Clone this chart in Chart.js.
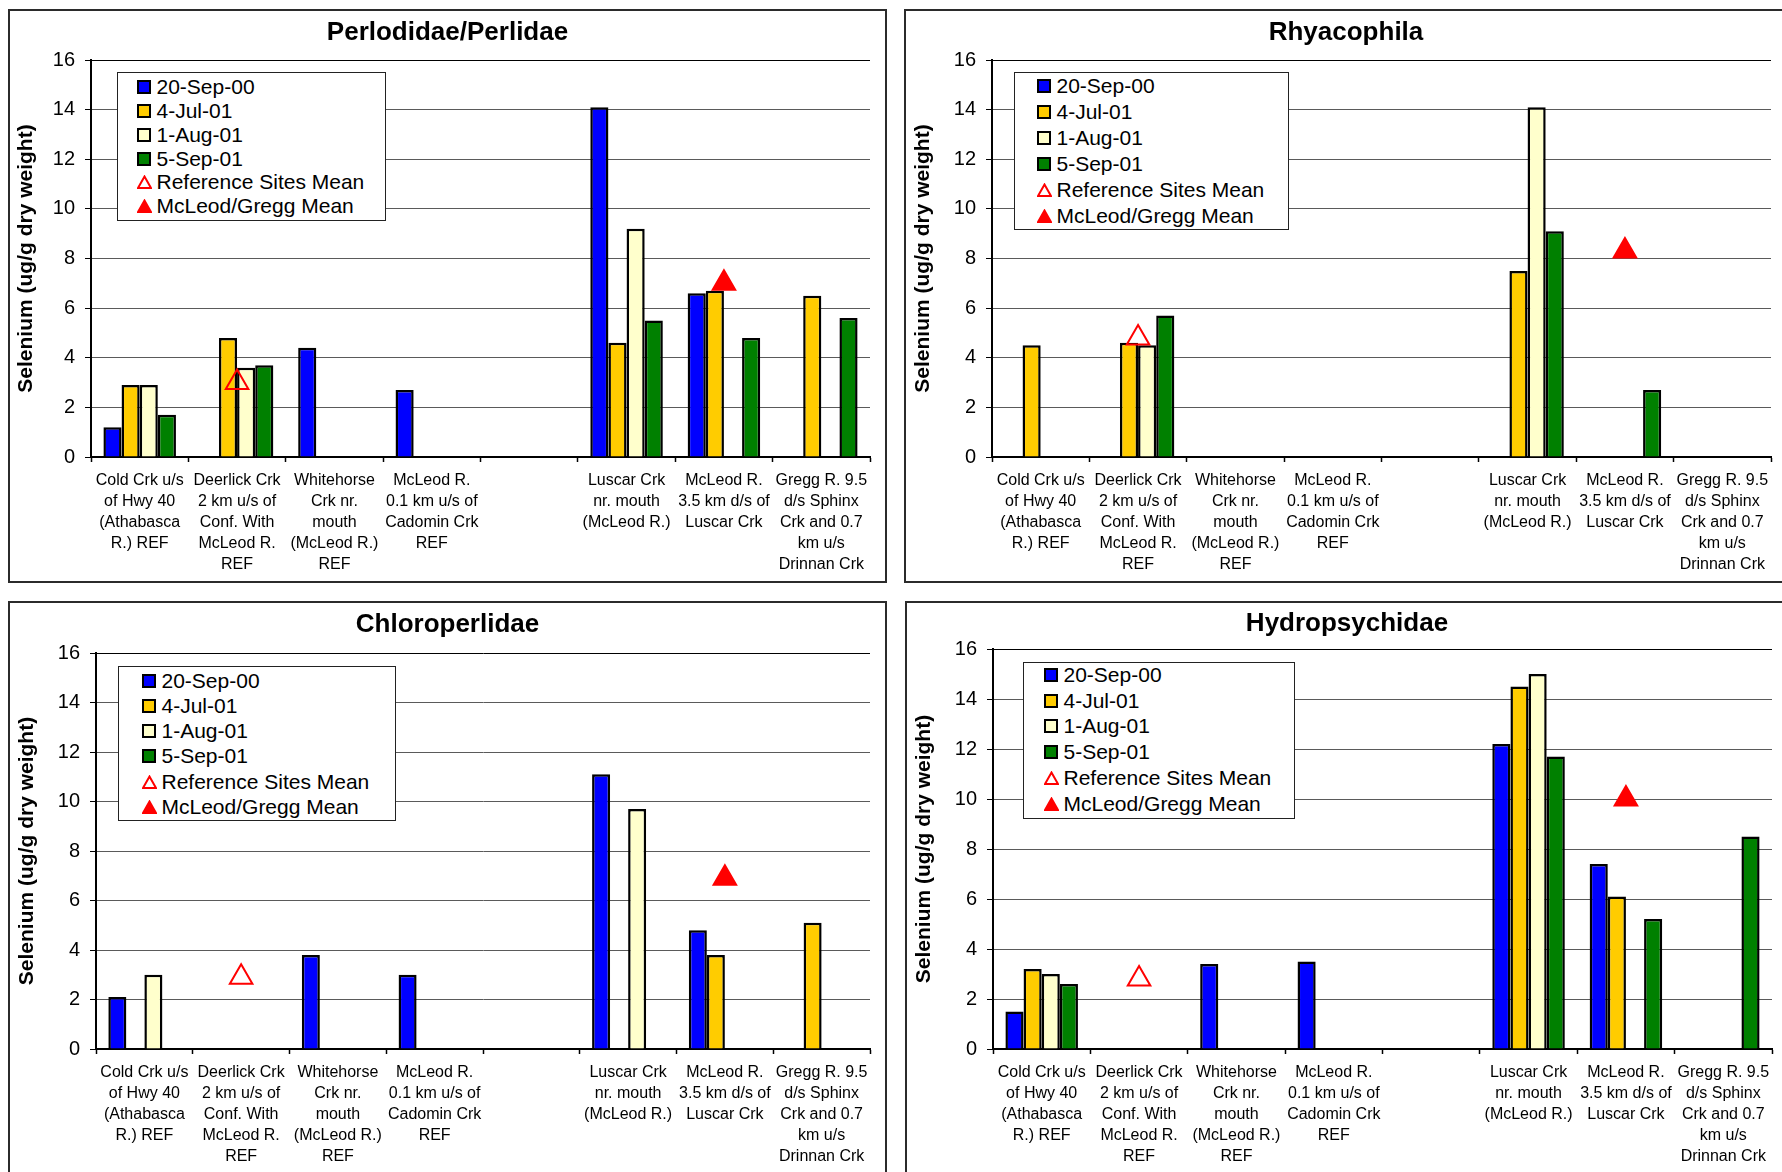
<!DOCTYPE html>
<html lang="en">
<head>
<meta charset="UTF-8">
<title>Selenium in benthic invertebrates</title>
<script src="https://cdn.jsdelivr.net/npm/chart.js"></script>
<style>
    html, body { margin: 0; padding: 0; background: #fff; }
    body { width: 1782px; height: 1172px; overflow: hidden; position: relative;
           font-family: "Liberation Sans", Arial, sans-serif; }
    .panel { position: absolute; border: 2px solid #2b2b2b; background: #fff; overflow: hidden; }
    .panel canvas { position: absolute; left: 0; top: 0; }
    .legend { position: absolute; background: #fff; border: 1.5px solid #222; box-sizing: border-box;
              font-size: 21px; color: #000; }
    .legend .row { position: absolute; height: 24px; line-height: 24px; white-space: nowrap;
                   display: flex; align-items: center; }
    .sw { display: inline-block; width: 14px; height: 14px; box-sizing: border-box;
          border: 2px solid #000; margin-right: 6px; }
    .tri { width: 15px; height: 14px; margin-right: 5px; }
</style>
</head>
<body>

<script>
// site labels (multi-line), one empty slot between reference and exposed sites
const sites = [
    ['Cold Crk u/s', 'of Hwy 40', '(Athabasca', 'R.) REF'],
    ['Deerlick Crk', '2 km u/s of', 'Conf. With', 'McLeod R.', 'REF'],
    ['Whitehorse', 'Crk nr.', 'mouth', '(McLeod R.)', 'REF'],
    ['McLeod R.', '0.1 km u/s of', 'Cadomin Crk', 'REF'],
    '',
    ['Luscar Crk', 'nr. mouth', '(McLeod R.)'],
    ['McLeod R.', '3.5 km d/s of', 'Luscar Crk'],
    ['Gregg R. 9.5', 'd/s Sphinx', 'Crk and 0.7', 'km u/s', 'Drinnan Crk']
];
const seriesNames = ['20-Sep-00', '4-Jul-01', '1-Aug-01', '5-Sep-01', 'Reference Sites Mean', 'McLeod/Gregg Mean'];

// Perlodidae/Perlidae
const perlSep00 = [1.2, null, 4.4, 2.7, null, 14.1, 6.6, null];
const perlJul01 = [2.9, 4.8, null, null, null, 4.6, 6.7, 6.5];
const perlAug01 = [2.9, 3.6, null, null, null, 9.2, null, null];
const perlSep01 = [1.7, 3.7, null, null, null, 5.5, 4.8, 5.6];
const perlRefMean = [null, 3.0, null, null, null, null, null, null];
const perlMcMean = [null, null, null, null, null, null, 7.0, null];

// Rhyacophila
const rhySep00 = [null, null, null, null, null, null, null, null];
const rhyJul01 = [4.5, 4.6, null, null, null, 7.5, null, null];
const rhyAug01 = [null, 4.5, null, null, null, 14.1, null, null];
const rhySep01 = [null, 5.7, null, null, null, 9.1, 2.7, null];
const rhyRefMean = [null, 4.8, null, null, null, null, null, null];
const rhyMcMean = [null, null, null, null, null, null, 8.3, null];

// Chloroperlidae
const chlSep00 = [2.1, null, 3.8, 3.0, null, 11.1, 4.8, null];
const chlJul01 = [null, null, null, null, null, null, 3.8, 5.1];
const chlAug01 = [3.0, null, null, null, null, 9.7, null, null];
const chlSep01 = [null, null, null, null, null, null, null, null];
const chlRefMean = [null, 2.9, null, null, null, null, null, null];
const chlMcMean = [null, null, null, null, null, null, 6.9, null];

// Hydropsychidae
const hydSep00 = [1.5, null, 3.4, 3.5, null, 12.2, 7.4, null];
const hydJul01 = [3.2, null, null, null, null, 14.5, 6.1, null];
const hydAug01 = [3.0, null, null, null, null, 15.0, null, null];
const hydSep01 = [2.6, null, null, null, null, 11.7, 5.2, 8.5];
const hydRefMean = [null, 2.8, null, null, null, null, null, null];
const hydMcMean = [null, null, null, null, null, null, 10.0, null];

const barColors = ['#0000FF', '#FFCC00', '#FFFFCC', '#008000'];
const FONT = "'Liberation Sans', Arial, sans-serif";

// panel boxes and plot-area placement (page pixels)
const panels = [
    { title: 'Perlodidae/Perlidae', series: [perlSep00, perlJul01, perlAug01, perlSep01, perlRefMean, perlMcMean],
      box: [8, 9, 879, 574], yAxisW: 81, chartTop: 49, chartBottom: 446, titleY: 21.5, yTitlePad: 3.5,
      legend: { left: 117, top: 72, w: 269, h: 149, first: 15.3, step: 23.9, indent: 20 } },
    { title: 'Rhyacophila', series: [rhySep00, rhyJul01, rhyAug01, rhySep01, rhyRefMean, rhyMcMean],
      box: [904, 9, 884, 574], yAxisW: 86, chartTop: 49, chartBottom: 446, titleY: 21.5, yTitlePad: 4.4,
      legend: { left: 1014, top: 72, w: 275, h: 158, first: 14.7, step: 25.9, indent: 23 } },
    { title: 'Chloroperlidae', series: [chlSep00, chlJul01, chlAug01, chlSep01, chlRefMean, chlMcMean],
      box: [8, 601, 879, 574], yAxisW: 86, chartTop: 50, chartBottom: 446, titleY: 22, yTitlePad: 4.4,
      legend: { left: 118, top: 666, w: 278, h: 155, first: 15.3, step: 25.2, indent: 24 } },
    { title: 'Hydropsychidae', series: [hydSep00, hydJul01, hydAug01, hydSep01, hydRefMean, hydMcMean],
      box: [905, 601, 884, 574], yAxisW: 86, chartTop: 46, chartBottom: 446, titleY: 20.5, yTitlePad: 4.4,
      legend: { left: 1023, top: 662, w: 272, h: 157, first: 13.3, step: 25.8, indent: 21 } }
];

function triangleSvg(filled) {
    return '<svg class="tri" viewBox="0 0 15 14"><polygon points="7.5,1.5 14,13 1,13" fill="' +
        (filled ? '#FF0000' : 'none') + '" stroke="#FF0000" stroke-width="2"/></svg>';
}

function buildLegend(lg) {
    const div = document.createElement('div');
    div.className = 'legend';
    div.style.left = lg.left + 'px';
    div.style.top = lg.top + 'px';
    div.style.width = lg.w + 'px';
    div.style.height = lg.h + 'px';
    seriesNames.forEach((name, i) => {
        const row = document.createElement('div');
        row.className = 'row';
        row.style.left = (lg.indent - 1.5) + 'px';
        row.style.top = (lg.first + i * lg.step - 12 - 1.5) + 'px';
        const mark = i < 4
            ? '<span class="sw" style="background:' + barColors[i] + '"></span>'
            : triangleSvg(i === 5);
        row.innerHTML = mark + '<span>' + name + '</span>';
        div.appendChild(row);
    });
    document.body.appendChild(div);
}

function buildChart(p, idx) {
    const [left, top, w, h] = p.box;
    const panel = document.createElement('div');
    panel.className = 'panel';
    panel.style.left = left + 'px';
    panel.style.top = top + 'px';
    panel.style.width = (w - 4) + 'px';
    panel.style.height = (h - 4) + 'px';
    const canvas = document.createElement('canvas');
    canvas.id = 'chart' + idx;
    canvas.width = w - 4;
    canvas.height = h - 4;
    panel.appendChild(canvas);
    document.body.appendChild(panel);

    const titleLH = 26 * 1.2;
    const titleTop = p.titleY - titleLH / 2;
    const titleBottom = p.chartTop - titleLH - titleTop;

    const datasets = [];
    for (let i = 0; i < 4; i++) {
        datasets.push({
            label: seriesNames[i],
            data: p.series[i],
            backgroundColor: barColors[i],
            borderColor: '#000',
            borderWidth: 2.5
        });
    }
    [4, 5].forEach(i => {
        datasets.push({
            type: 'line',
            label: seriesNames[i],
            data: p.series[i],
            showLine: false,
            pointStyle: 'triangle',
            pointRadius: 13,
            pointBorderWidth: 2,
            pointBorderColor: '#FF0000',
            pointBackgroundColor: i === 5 ? '#FF0000' : 'rgba(0,0,0,0)',
            order: -1
        });
    });

    new Chart(canvas, {
        type: 'bar',
        data: { labels: sites, datasets: datasets },
        options: {
            responsive: false,
            animation: false,
            events: [],
            layout: { padding: 0 },
            datasets: { bar: { categoryPercentage: 0.745, barPercentage: 1.0 } },
            plugins: {
                legend: { display: false },
                tooltip: { enabled: false },
                title: {
                    display: true,
                    text: p.title,
                    color: '#000',
                    font: { family: FONT, size: 26, weight: 'bold', lineHeight: 1.2 },
                    padding: { top: titleTop, bottom: titleBottom }
                }
            },
            scales: {
                x: {
                    grid: { offset: true, drawOnChartArea: false, drawTicks: true, tickLength: 5,
                            tickColor: '#000', tickWidth: 1.5 },
                    border: { display: true, color: '#000', width: 2 },
                    ticks: { color: '#000', font: { family: FONT, size: 16, lineHeight: 1.3125 },
                             padding: 8.5, maxRotation: 0, minRotation: 0, autoSkip: false },
                    afterFit: s => { s.height = (h - 4) - p.chartBottom; }
                },
                y: {
                    min: 0,
                    max: 16,
                    ticks: { stepSize: 2, color: '#000', font: { family: FONT, size: 20 }, padding: 10 },
                    grid: {
                        color: c => (c.tick && c.tick.value === 16) ? '#000' : '#5a5a5a',
                        lineWidth: 1,
                        tickLength: 6,
                        tickColor: '#000'
                    },
                    border: { color: '#000', width: 2 },
                    title: {
                        display: true,
                        text: 'Selenium (ug/g dry weight)',
                        color: '#000',
                        font: { family: FONT, size: 21, weight: 'bold', lineHeight: 1.2 },
                        padding: { top: p.yTitlePad, bottom: 0 }
                    },
                    afterFit: s => { s.width = p.yAxisW; }
                }
            }
        }
    });
}

panels.forEach((p, i) => buildChart(p, i));
panels.forEach(p => buildLegend(p.legend));
</script>
</body>
</html>
